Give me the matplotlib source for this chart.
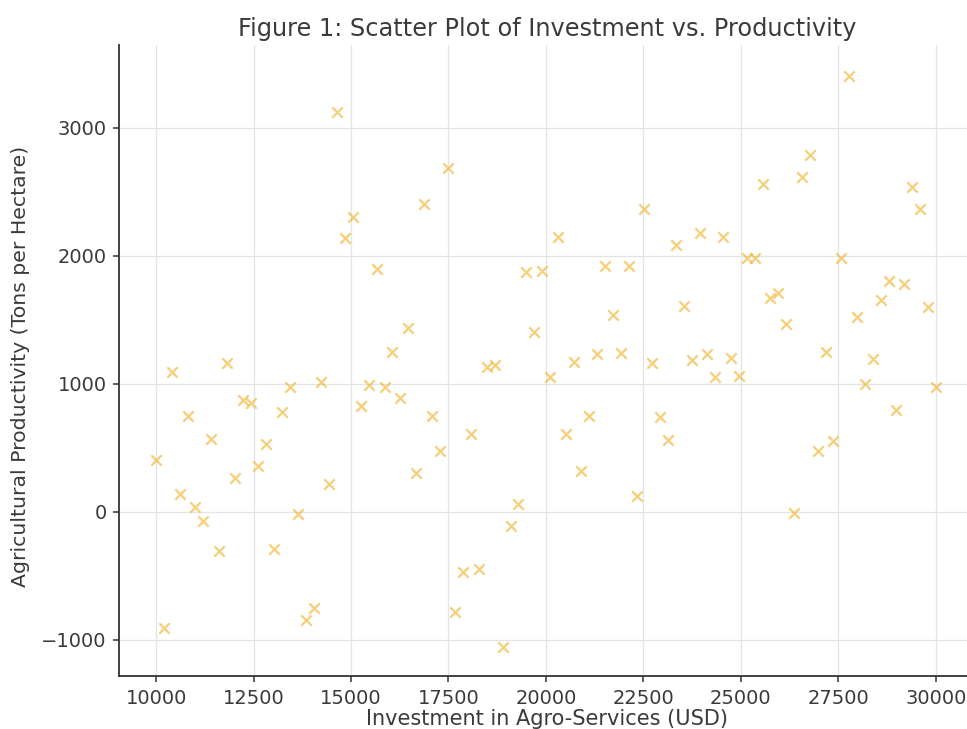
import matplotlib
matplotlib.use("Agg")
from matplotlib import pyplot as plt  # noqa

# investment steps (USD), evenly spaced from 10000 to 30000
investment = [10000, 10202, 10404, 10606, 10808, 11010, 11212, 11414, 11616, 11818,
              12020, 12222, 12424, 12626, 12828, 13030, 13232, 13434, 13636, 13838,
              14040, 14242, 14444, 14646, 14848, 15051, 15253, 15455, 15657, 15859,
              16061, 16263, 16465, 16667, 16869, 17071, 17273, 17475, 17677, 17879,
              18081, 18283, 18485, 18687, 18889, 19091, 19293, 19495, 19697, 19899,
              20101, 20303, 20505, 20707, 20909, 21111, 21313, 21515, 21717, 21919,
              22121, 22323, 22525, 22727, 22929, 23131, 23333, 23535, 23737, 23939,
              24141, 24343, 24545, 24747, 24949, 25152, 25354, 25556, 25758, 25960,
              26162, 26364, 26566, 26768, 26970, 27172, 27374, 27576, 27778, 27980,
              28182, 28384, 28586, 28788, 28990, 29192, 29394, 29596, 29798, 30000]

# productivity (tons per hectare)
productivity = [404, -911, 1094, 138, 748, 39, -73, 565, -305, 1159,
                261, 873, 847, 357, 527, -294, 776, 972, -18, -851,
                -755, 1016, 216, 3125, 2136, 2305, 826, 990, 1894, 972,
                1250, 886, 1433, 305, 2401, 748, 477, 2683, -786, -469,
                607, -450, 1133, 1146, -1055, -112, 60, 1870, 1406, 1880,
                1050, 2149, 607, 1172, 320, 748, 1232, 1922, 1537, 1237,
                1922, 123, 2362, 1159, 738, 560, 2083, 1609, 1185, 2175,
                1232, 1050, 2149, 1198, 1060, 1980, 1980, 2560, 1667, 1706,
                1466, -8, 2612, 2787, 477, 1250, 555, 1980, 3404, 1523,
                998, 1191, 1654, 1805, 795, 1779, 2539, 2362, 1602, 977]

x_ticks = [10000, 12500, 15000, 17500, 20000, 22500, 25000, 27500, 30000]
y_ticks = [-1000, 0, 1000, 2000, 3000]

plt.rcParams['font.family'] = 'DejaVu Sans'
text_col = '#3a3a3a'

fig = plt.figure(figsize=(9.67, 7.29), dpi=100)
ax = fig.add_axes([0.1231, 0.0727, 0.885, 0.866])

ax.scatter(investment, productivity, marker='x', s=55, color='#f0b020', alpha=0.6,
           linewidths=1.6, zorder=3)

ax.set_xlim(9050, 31000)
ax.set_ylim(-1285, 3650)
ax.set_xticks(x_ticks)
ax.set_yticks(y_ticks)
ax.grid(True, color='#e4e4e4', linewidth=0.9)
ax.set_axisbelow(True)

for side in ['top', 'right']:
    ax.spines[side].set_visible(False)
for side in ['left', 'bottom']:
    ax.spines[side].set_color('#333333')
    ax.spines[side].set_linewidth(1.3)

ax.tick_params(axis='both', labelsize=14, labelcolor=text_col, colors='#333333',
               length=4, width=1.1, direction='out', pad=5)

ax.set_title('Figure 1: Scatter Plot of Investment vs. Productivity', fontsize=17.3,
             color=text_col, pad=6)
ax.set_xlabel('Investment in Agro-Services (USD)', fontsize=15, color=text_col, labelpad=1)
ax.set_ylabel('Agricultural Productivity (Tons per Hectare)', fontsize=14.7, color=text_col)
ax.yaxis.set_label_coords(-0.104, 0.49)

fig.savefig('out.png', dpi=100)
